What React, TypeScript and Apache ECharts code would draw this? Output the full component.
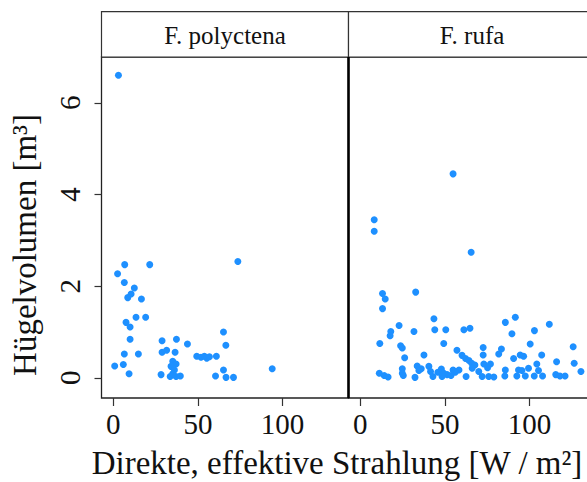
import React, { useEffect, useRef } from "react";
import * as echarts from "echarts";

const panelNames = ["F. polyctena", "F. rufa"];
const xTicks = [0, 50, 100];
const yTicks = [0, 2, 4, 6];

const polyX = [3.0, 6.7, 21.5, 2.5, 6.5, 12.4, 10.5, 8.5, 16.6, 7.5, 9.9, 13.4, 19.1, 9.9, 6.5, 14.8, 0.8, 5.9, 9.3, 28.8, 37.3, 43.8, 28.8, 31.5, 36.5, 35.1, 37.1, 34.1, 36.1, 33.6, 37.1, 39.6, 28.2, 35.1, 49.3, 51.8, 53.8, 55.2, 56.8, 60.9, 65.1, 66.5, 65.1, 60.4, 66.6, 71.0, 73.6, 93.9];
const polyY = [6.6, 2.47, 2.47, 2.27, 2.08, 1.96, 1.83, 1.75, 1.72, 1.21, 1.11, 1.32, 1.32, 0.84, 0.52, 0.52, 0.26, 0.29, 0.09, 0.81, 0.84, 0.74, 0.56, 0.6, 0.56, 0.36, 0.3, 0.25, 0.17, 0.03, 0.03, 0.04, 0.07, 0.09, 0.47, 0.45, 0.47, 0.43, 0.46, 0.47, 1.0, 0.71, 0.17, 0.04, 0.01, 0.01, 2.54, 0.2];

const rufaX = [8.2, 8.2, 54.8, 65.5, 13.1, 14.7, 13.1, 32.7, 43.5, 22.9, 18.0, 17.6, 31.7, 44.0, 50.5, 61.2, 64.8, 85.7, 91.6, 89.6, 102.9, 111.7, 11.5, 23.8, 24.8, 49.3, 26.2, 37.6, 57.1, 60.1, 72.6, 72.6, 83.4, 81.8, 100.4, 125.8, 62.2, 64.2, 65.8, 67.7, 90.6, 94.5, 96.5, 107.2, 116.0, 126.4, 130.4, 73.0, 76.9, 75.2, 85.7, 85.4, 93.5, 95.5, 92.5, 97.5, 99.4, 104.3, 105.3, 102.8, 107.7, 115.5, 118.0, 121.0, 58.3, 62.5, 66.1, 70.0, 72.0, 75.9, 78.9, 11.2, 14.1, 16.4, 24.8, 24.8, 25.4, 32.3, 33.6, 36.0, 34.6, 40.5, 41.5, 42.9, 45.8, 47.9, 49.3, 51.3, 48.3, 54.8, 56.1, 53.6];
const rufaY = [3.45, 3.2, 4.45, 2.74, 1.84, 1.72, 1.51, 1.87, 1.29, 1.14, 1.01, 0.92, 1.01, 1.05, 1.05, 1.05, 1.08, 1.21, 1.32, 0.96, 1.03, 1.17, 0.75, 0.7, 0.65, 0.75, 0.44, 0.5, 0.6, 0.49, 0.66, 0.5, 0.63, 0.52, 0.74, 0.68, 0.42, 0.38, 0.32, 0.28, 0.42, 0.5, 0.47, 0.5, 0.35, 0.32, 0.14, 0.3, 0.3, 0.22, 0.17, 0.04, 0.17, 0.16, 0.04, 0.04, 0.21, 0.3, 0.16, 0.04, 0.04, 0.07, 0.04, 0.04, 0.17, 0.03, 0.21, 0.14, 0.03, 0.03, 0.02, 0.1, 0.05, 0.02, 0.2, 0.1, 0.05, 0.01, 0.26, 0.2, 0.16, 0.25, 0.14, 0.03, 0.12, 0.19, 0.1, 0.07, 0.03, 0.17, 0.12, 0.05];

const xTitle = "Direkte, effektive Strahlung [W / m²]";
const yTitle = "Hügelvolumen [m³]";

export default function App() {
  const ref = useRef<HTMLDivElement>(null);
  useEffect(() => {
    if (!ref.current) return;
    const chart = echarts.init(ref.current, null, { renderer: "svg" });
    const font = "Liberation Serif";
    const top = 57;
    const height = 341;
    const width = 247;
    const lefts = [101.5, 348.5];
    const datasets = [
      polyX.map((x, i) => [x, polyY[i]]),
      rufaX.map((x, i) => [x, rufaY[i]]),
    ];
    const stripTop = 11.7;
    chart.setOption({
      animation: false,
      backgroundColor: "#ffffff",
      textStyle: { fontFamily: font },
      grid: lefts.map((l) => ({
        left: l,
        top,
        width,
        height,
        show: true,
        borderColor: "#222",
        borderWidth: 1.3,
        backgroundColor: "transparent",
      })),
      xAxis: lefts.map((_, i) => ({
        gridIndex: i,
        type: "value",
        min: -7,
        max: 139,
        axisLine: { show: false, onZero: false },
        axisTick: {
          show: true,
          length: 8,
          customValues: xTicks,
          lineStyle: { color: "#333", width: 1.2 },
        },
        axisLabel: {
          customValues: xTicks,
          fontSize: 29,
          fontFamily: font,
          color: "#111",
          margin: 11,
        },
        splitLine: { show: false },
      })),
      yAxis: lefts.map((_, i) => ({
        gridIndex: i,
        type: "value",
        min: -0.44,
        max: 7.0,
        axisLine: { show: false, onZero: false },
        axisTick: {
          show: i === 0,
          length: 7,
          customValues: yTicks,
          lineStyle: { color: "#333", width: 1.2 },
        },
        axisLabel: {
          show: i === 0,
          customValues: yTicks,
          rotate: 90,
          fontSize: 29,
          fontFamily: font,
          color: "#111",
          margin: 17,
        },
        splitLine: { show: false },
      })),
      series: datasets.map((d, i) => ({
        type: "scatter",
        xAxisIndex: i,
        yAxisIndex: i,
        data: d,
        symbol: "circle",
        symbolSize: 7,
        itemStyle: { color: "#1E90FF", opacity: 1 },
        emphasis: { disabled: true },
      })),
      graphic: [
        ...lefts.map((l) => ({
          type: "rect",
          shape: { x: l, y: stripTop, width, height: top - stripTop },
          style: { fill: "#fff", stroke: "#333", lineWidth: 1.2 },
        })),
        ...lefts.map((l, i) => ({
          type: "text",
          x: l + width / 2,
          y: (stripTop + top) / 2 + 1,
          style: {
            text: panelNames[i],
            fontSize: 25,
            fontFamily: font,
            fill: "#111",
            align: "center",
            verticalAlign: "middle",
          },
        })),
        {
          type: "line",
          shape: { x1: 348.5, y1: top, x2: 348.5, y2: top + height },
          style: { stroke: "#000", lineWidth: 2.5 },
        },
        {
          type: "text",
          x: 337,
          y: 463,
          style: {
            text: xTitle,
            fontSize: 33,
            fontFamily: font,
            fill: "#111",
            align: "center",
            verticalAlign: "middle",
          },
        },
        {
          type: "text",
          x: 25,
          y: 245,
          rotation: Math.PI / 2,
          style: {
            text: yTitle,
            fontSize: 33,
            fontFamily: font,
            fill: "#111",
            align: "center",
            verticalAlign: "middle",
          },
        },
      ],
    });
    return () => chart.dispose();
  }, []);
  return (
    <div
      style={{
        position: "absolute",
        left: 0,
        top: 0,
        width: 587,
        height: 482,
        overflow: "hidden",
        background: "#fff",
      }}
    >
      <div ref={ref} style={{ width: 600, height: 482 }} />
    </div>
  );
}
